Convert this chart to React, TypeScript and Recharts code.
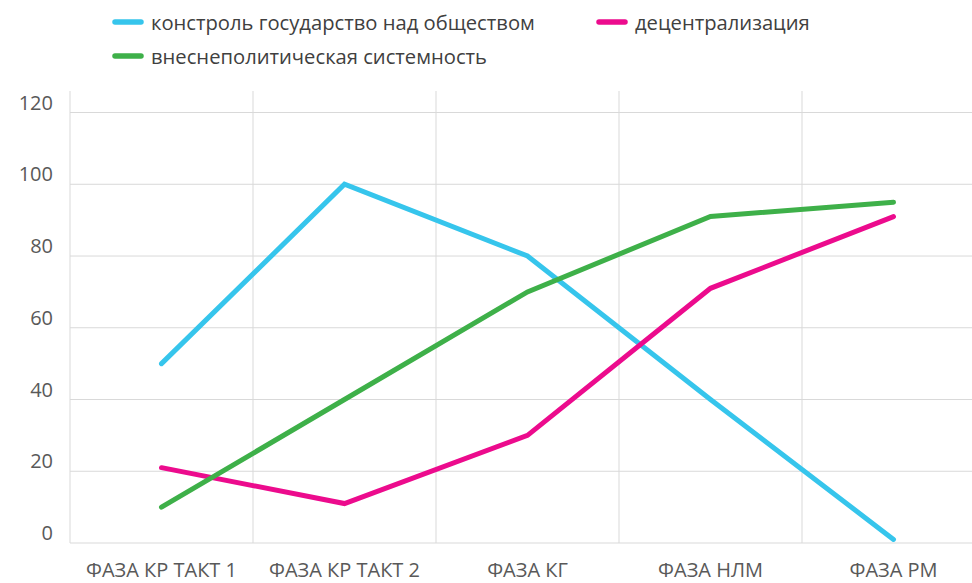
import React from "react";
import { LineChart, Line, XAxis, YAxis, CartesianGrid, Legend } from "recharts";

const categories = ["ФАЗА КР ТАКТ 1", "ФАЗА КР ТАКТ 2", "ФАЗА КГ", "ФАЗА НЛМ", "ФАЗА РМ"];
const controlValues = [50, 100, 80, 40, 1];
const decentralValues = [21, 11, 30, 71, 91];
const foreignValues = [10, 40, 70, 91, 95];
const yTicks = [0, 20, 40, 60, 80, 100, 120];
const yMax = 126;

const seriesNames = {
  control: "констроль государство над обществом",
  decentral: "децентрализация",
  foreign: "внеснеполитическая системность",
};

const colors = {
  control: "#36c5ec",
  decentral: "#ec0b8d",
  foreign: "#3eb049",
};

const data = categories.map((c, i) => ({
  name: c,
  control: controlValues[i],
  decentral: decentralValues[i],
  foreign: foreignValues[i],
}));

const FONT = "'Open Sans', 'Noto Sans', sans-serif";

const LegendItem = ({ color, label, left, top }: { color: string; label: string; left: number; top: number }) => (
  <div style={{ position: "absolute", left, top, display: "flex", alignItems: "center", whiteSpace: "nowrap" }}>
    <svg width={32} height={8} style={{ marginRight: 7 }}>
      <line x1={3} y1={4} x2={29} y2={4} stroke={color} strokeWidth={5.5} strokeLinecap="round" />
    </svg>
    <span style={{ fontFamily: FONT, fontSize: 20.2, color: "#404040" }}>{label}</span>
  </div>
);

const renderLegend = () => (
  <div style={{ position: "relative", height: 91, width: 972 }}>
    <LegendItem color={colors.control} label={seriesNames.control} left={112} top={8} />
    <LegendItem color={colors.decentral} label={seriesNames.decentral} left={596} top={8} />
    <LegendItem color={colors.foreign} label={seriesNames.foreign} left={112} top={42} />
  </div>
);

export default function App() {
  return (
    <div style={{ position: "fixed", left: 0, top: 0, width: 972, height: 583, overflow: "hidden", background: "#fff" }}>
      <LineChart width={1000} height={583} data={data} margin={{ top: 0, right: 15, bottom: 0, left: 0 }}>
        <Legend verticalAlign="top" align="left" content={renderLegend} wrapperStyle={{ left: 0, top: 0 }} />
        <CartesianGrid
          stroke="#d9d9d9"
          strokeWidth={1}
          horizontalCoordinatesGenerator={(props: any) => {
            const off = props.offset;
            const h = off.height ?? props.height - off.top - off.bottom;
            return yTicks.map((t) => off.top + h * (1 - t / yMax));
          }}
          verticalCoordinatesGenerator={(props: any) => {
            const off = props.offset;
            const w = off.width ?? props.width - off.left - off.right;
            return [...categories.map((_, i) => off.left + (i * w) / categories.length), off.left + w];
          }}
        />
        <XAxis
          dataKey="name"
          scale="band"
          axisLine={false}
          tickLine={false}
          height={40}
          tickMargin={14}
          interval={0}
          tick={{ fill: "#595959", fontSize: 20, fontFamily: FONT }}
        />
        <YAxis
          domain={[0, yMax]}
          ticks={yTicks}
          axisLine={false}
          tickLine={false}
          width={70}
          tickMargin={11}
          tick={{ fill: "#595959", fontSize: 20, fontFamily: FONT, dy: -10 } as any}
        />
        <Line type="linear" dataKey="control" name={seriesNames.control} stroke={colors.control} strokeWidth={5} strokeLinecap="round" dot={false} activeDot={false} isAnimationActive={false} />
        <Line type="linear" dataKey="decentral" name={seriesNames.decentral} stroke={colors.decentral} strokeWidth={5} strokeLinecap="round" dot={false} activeDot={false} isAnimationActive={false} />
        <Line type="linear" dataKey="foreign" name={seriesNames.foreign} stroke={colors.foreign} strokeWidth={5} strokeLinecap="round" dot={false} activeDot={false} isAnimationActive={false} />
      </LineChart>
    </div>
  );
}
